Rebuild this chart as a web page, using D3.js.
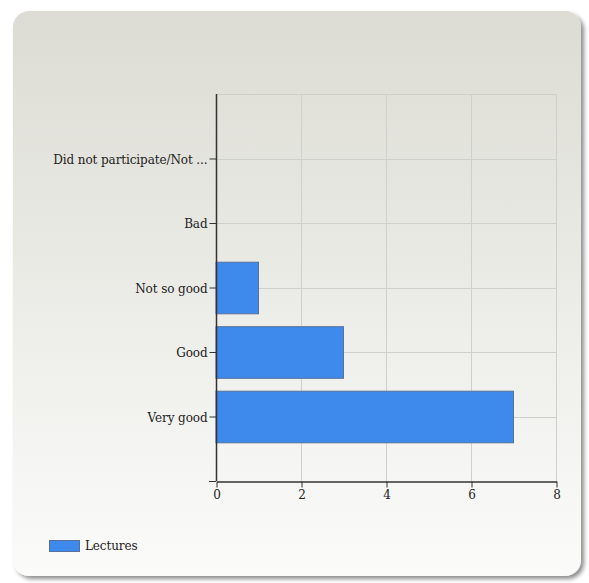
<!DOCTYPE html>
<html><head><meta charset="utf-8">
<script src="https://cdn.jsdelivr.net/npm/d3@7"></script>
<style>html,body{margin:0;padding:0;background:#fff;}svg{display:block;}</style>
</head><body>
<script>
const categories = ["Did not participate/Not ...", "Bad", "Not so good", "Good", "Very good"];
const seriesName = "Lectures";
const values = [0, 0, 1, 3, 7];
const xTicks = [0, 2, 4, 6, 8];

const W = 589, H = 583;
const svg = d3.select("body").append("svg").attr("width", W).attr("height", H);
const defs = svg.append("defs");
const grad = defs.append("linearGradient").attr("id","bg").attr("x1",0).attr("y1",0).attr("x2",0).attr("y2",1);
grad.append("stop").attr("offset","0%").attr("stop-color","#dcdcd4");
grad.append("stop").attr("offset","100%").attr("stop-color","#fbfbfa");
const flt = defs.append("filter").attr("id","sh").attr("x","-5%").attr("y","-5%").attr("width","115%").attr("height","115%");
flt.append("feGaussianBlur").attr("in","SourceAlpha").attr("stdDeviation",2);
flt.append("feOffset").attr("dx",3).attr("dy",3).attr("result","b");
flt.append("feComponentTransfer").append("feFuncA").attr("type","linear").attr("slope",0.45);
const m = flt.append("feMerge"); m.append("feMergeNode"); m.append("feMergeNode").attr("in","SourceGraphic");

svg.append("rect").attr("x",13).attr("y",11).attr("width",568).attr("height",565)
  .attr("rx",16).attr("ry",16).attr("fill","url(#bg)").attr("filter","url(#sh)");

const x = d3.scaleLinear().domain([0, 8]).range([216, 556]);
const y = d3.scalePoint().domain(categories).range([94, 481]).padding(1);
const bh = y.step() * 0.8;
const font = "'DejaVu Serif', 'Liberation Serif', serif";

const g = svg.append("g");
// grid
g.selectAll(".vg").data(xTicks.slice(1)).enter().append("line")
  .attr("x1", d => x(d) + 0.5).attr("x2", d => x(d) + 0.5).attr("y1", 94).attr("y2", 481)
  .attr("stroke", "#cfcfcb").attr("stroke-width", 1);
g.selectAll(".hg").data(categories).enter().append("line")
  .attr("x1", 216).attr("x2", 556).attr("y1", d => Math.round(y(d)) + 0.5).attr("y2", d => Math.round(y(d)) + 0.5)
  .attr("stroke", "#cfcfcb");
g.append("line").attr("x1",216).attr("x2",556).attr("y1",94.5).attr("y2",94.5).attr("stroke","#cfcfcb");

// bars
g.selectAll(".bar").data(values.map((v,i)=>({c:categories[i], v}))).enter().filter(d=>d.v>0)
  .append("rect")
  .attr("x", x(0)).attr("y", d => y(d.c) - bh/2 + 0.5)
  .attr("width", d => x(d.v) - x(0)).attr("height", bh)
  .attr("fill", "#3e89ec").attr("stroke", "#58709a").attr("stroke-width", 1);

// y axis
const ya = svg.append("g").attr("transform","translate(216.5,0)")
  .call(d3.axisLeft(y).tickSize(7).tickSizeOuter(0));
ya.select(".domain").attr("d","M0,94V481").attr("stroke","#333").attr("stroke-width",1.5);
ya.selectAll(".tick line").attr("stroke","#333");
ya.selectAll(".tick text").attr("font-family",font).attr("font-size","12px").attr("fill","#222")
  .attr("x",-9).attr("dy","0.4em").attr("letter-spacing","-0.1px");
svg.append("line").attr("x1",209).attr("x2",216).attr("y1",481.5).attr("y2",481.5).attr("stroke","#333");

// x axis
const xa = svg.append("g").attr("transform","translate(0.5,481.5)")
  .call(d3.axisBottom(x).tickValues(xTicks).tickSize(6).tickSizeOuter(0));
xa.select(".domain").attr("stroke","#333").attr("stroke-width",1.5);
xa.selectAll(".tick line").attr("stroke","#333");
xa.selectAll(".tick text").attr("font-family",font).attr("font-size","12px").attr("fill","#222").attr("y",9);

// legend
const lg = svg.append("g");
lg.append("rect").attr("x",49.5).attr("y",540.5).attr("width",30).attr("height",11)
  .attr("fill","#3e89ec").attr("stroke","#58709a");
lg.append("text").attr("x",85).attr("y",550).attr("font-family",font).attr("font-size","12px")
  .attr("letter-spacing","-0.1px").attr("fill","#222").text(seriesName);
</script>
</body></html>
